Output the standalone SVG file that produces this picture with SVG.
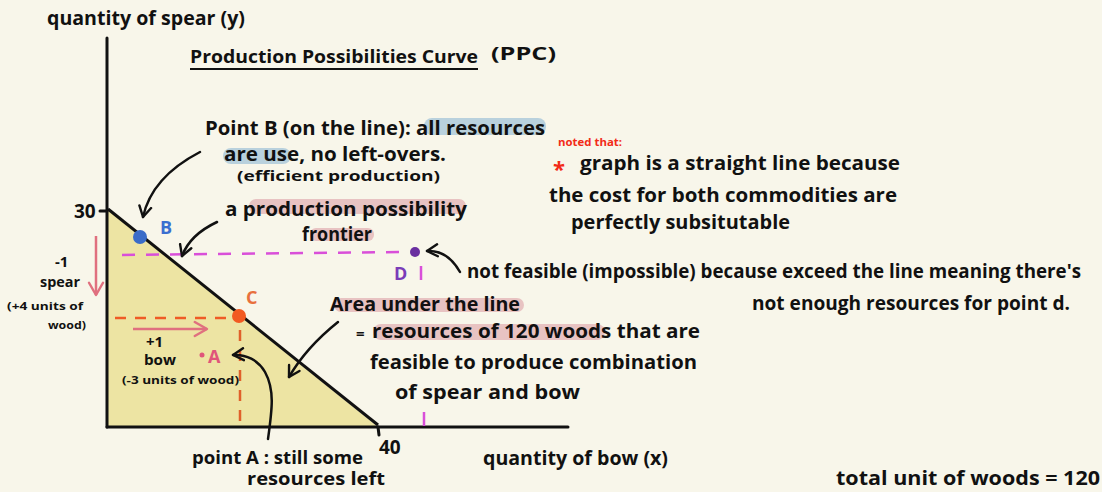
<svg xmlns="http://www.w3.org/2000/svg" width="1102" height="492" viewBox="0 0 1102 492">
<style>
.t{font-family:"Open Sans","Liberation Sans",sans-serif;font-weight:700;fill:#111;}
.s{font-size:19px}
.m{font-size:15px}
.x{font-size:11px}
.hb{fill:#b9d1dd}
.hp{fill:#e8c3c2}
.ax{stroke:#111;stroke-width:3;fill:none;stroke-linecap:round}
.ar{stroke:#111;stroke-width:2.5;fill:none;stroke-linecap:round;stroke-linejoin:round}
</style>
<defs>
<marker id="ah" viewBox="0 0 10 10" refX="8" refY="5" markerWidth="6" markerHeight="6" orient="auto-start-reverse"><path d="M1,1 L8,5 L1,9" fill="none" stroke="#111" stroke-width="1.6" stroke-linecap="round" stroke-linejoin="round"/></marker>
<marker id="ahp" viewBox="0 0 10 10" refX="8" refY="5" markerWidth="7" markerHeight="7" orient="auto"><path d="M1,1 L8,5 L1,9" fill="none" stroke="#e0707f" stroke-width="1.4" stroke-linecap="round" stroke-linejoin="round"/></marker>
</defs>
<rect width="1102" height="492" fill="#f8f6ea"/>

<g id="area">
<polygon points="107,209 107,427 378,427" fill="#ede4a3"/>
</g>

<g id="axes">
<line class="ax" x1="107" y1="38" x2="107" y2="427"/>
<line class="ax" x1="107" y1="427" x2="568" y2="427"/>
<line class="ax" x1="100" y1="211" x2="107" y2="211"/>
<line class="ax" x1="378" y1="427" x2="379" y2="435"/>
<line x1="424" y1="412" x2="424" y2="426" stroke="#d94fd9" stroke-width="2.5"/>
<line x1="108" y1="209" x2="378" y2="425" stroke="#111" stroke-width="3"/>
<text class="t s" x="74" y="218">30</text>
<text class="t s" x="379" y="454">40</text>
<text class="t s" x="47" y="25" textLength="198" lengthAdjust="spacingAndGlyphs">quantity of spear (y)</text>
<text class="t s" x="483" y="465" textLength="185" lengthAdjust="spacingAndGlyphs">quantity of bow (x)</text>
</g>

<g id="title">
<text class="t" font-size="17" x="190" y="63" textLength="288" lengthAdjust="spacingAndGlyphs">Production Possibilities Curve</text>
<line x1="190" y1="69" x2="478" y2="69" stroke="#111" stroke-width="2"/>
<text class="t" font-size="17" x="491" y="60" textLength="65" lengthAdjust="spacingAndGlyphs">(PPC)</text>
</g>

<g id="guides">
<line x1="122" y1="255" x2="410" y2="252" stroke="#d94fd9" stroke-width="2.5" stroke-dasharray="13,11"/>
<line x1="421" y1="266" x2="421" y2="280" stroke="#d94fd9" stroke-width="2.5"/>
<line x1="115" y1="318" x2="235" y2="318" stroke="#ef5b26" stroke-width="2.5" stroke-dasharray="11,9"/>
<line x1="240" y1="330" x2="240" y2="425" stroke="#e0602a" stroke-width="2.5" stroke-dasharray="11,9"/>
<line x1="96" y1="236" x2="96" y2="295" stroke="#e0707f" stroke-width="2.5" marker-end="url(#ahp)"/>
<line x1="133" y1="329" x2="207" y2="329" stroke="#e0707f" stroke-width="2.5" marker-end="url(#ahp)"/>
</g>

<g id="pointB">
<circle cx="140" cy="237" r="7" fill="#3a6cc8"/>
<text class="t" font-size="18" style="fill:#3b6fd0" x="160" y="234">B</text>
</g>
<g id="pointC">
<circle cx="239" cy="316" r="7" fill="#f25a22"/>
<text class="t" font-size="18" style="fill:#e8703d" x="246" y="304">C</text>
</g>
<g id="pointD">
<circle cx="415" cy="252" r="5" fill="#6a2fa0"/>
<text class="t" font-size="18" style="fill:#7b3cb8" x="394" y="280">D</text>
</g>
<g id="pointA">
<circle cx="202" cy="355" r="2.5" fill="#e0557a"/>
<text class="t" font-size="18" style="fill:#e0557a" x="208" y="363">A</text>
</g>

<g id="tradeoff">
<text class="t m" x="55" y="267">-1</text>
<text class="t m" x="40" y="287" textLength="40" lengthAdjust="spacingAndGlyphs">spear</text>
<text class="t x" x="7" y="310" textLength="76" lengthAdjust="spacingAndGlyphs">(+4 units of</text>
<text class="t x" x="48" y="329" textLength="38" lengthAdjust="spacingAndGlyphs">wood)</text>
<text class="t m" x="146" y="347">+1</text>
<text class="t m" x="144" y="365" textLength="32" lengthAdjust="spacingAndGlyphs">bow</text>
<text class="t x" x="122" y="384" textLength="117" lengthAdjust="spacingAndGlyphs">(-3 units of wood)</text>
</g>

<g id="noteB">
<rect class="hb" x="424" y="118" width="122" height="17" rx="8"/>
<rect class="hb" x="223" y="148" width="68" height="16" rx="8"/>
<text class="t s" x="205" y="135" textLength="340" lengthAdjust="spacingAndGlyphs">Point B (on the line): all resources</text>
<text class="t s" x="224" y="161" textLength="222" lengthAdjust="spacingAndGlyphs">are use, no left-overs.</text>
<text class="t m" x="237" y="181" textLength="203" lengthAdjust="spacingAndGlyphs">(efficient production)</text>
</g>

<g id="notePPF">
<rect class="hp" x="249" y="199" width="217" height="15" rx="7"/>
<rect class="hp" x="310" y="228" width="64" height="13" rx="6"/>
<text class="t s" x="225" y="216" textLength="242" lengthAdjust="spacingAndGlyphs">a production possibility</text>
<text class="t s" x="302" y="241" textLength="70" lengthAdjust="spacingAndGlyphs">frontier</text>
</g>

<g id="noteGraph">
<text class="t" font-size="11" style="fill:#f22b17" x="558" y="146" textLength="64" lengthAdjust="spacingAndGlyphs">noted that:</text>
<text class="t" font-size="22" style="fill:#f22b17" x="553" y="177">*</text>
<text class="t s" x="580" y="170" textLength="320" lengthAdjust="spacingAndGlyphs">graph is a straight line because</text>
<text class="t s" x="549" y="202" textLength="348" lengthAdjust="spacingAndGlyphs">the cost for both commodities are</text>
<text class="t s" x="571" y="229" textLength="219" lengthAdjust="spacingAndGlyphs">perfectly subsitutable</text>
</g>

<g id="noteD">
<text class="t s" x="467" y="278" textLength="614" lengthAdjust="spacingAndGlyphs">not feasible (impossible) because exceed the line meaning there's</text>
<text class="t s" x="752" y="310" textLength="318" lengthAdjust="spacingAndGlyphs">not enough resources for point d.</text>
</g>

<g id="noteArea">
<rect class="hp" x="334" y="298" width="190" height="14" rx="7"/>
<rect class="hp" x="373" y="324" width="232" height="16" rx="8"/>
<text class="t s" x="330" y="311" textLength="190" lengthAdjust="spacingAndGlyphs">Area under the line</text>
<text class="t m" x="356" y="339">=</text>
<text class="t s" x="372" y="338" textLength="328" lengthAdjust="spacingAndGlyphs">resources of 120 woods that are</text>
<text class="t s" x="370" y="369" textLength="327" lengthAdjust="spacingAndGlyphs">feasible to produce combination</text>
<text class="t s" x="395" y="399" textLength="185" lengthAdjust="spacingAndGlyphs">of spear and bow</text>
</g>

<g id="noteA">
<text class="t" font-size="17" x="192" y="464" textLength="171" lengthAdjust="spacingAndGlyphs">point A : still some</text>
<text class="t" font-size="17" x="247" y="485" textLength="138" lengthAdjust="spacingAndGlyphs">resources left</text>
</g>

<g id="total">
<text class="t s" x="836" y="485" textLength="264" lengthAdjust="spacingAndGlyphs">total unit of woods = 120</text>
</g>

<g id="connectors">
<path class="ar" d="M200,152 C175,165 150,185 143,217" marker-end="url(#ah)"/>
<path class="ar" d="M217,222 C200,230 188,240 182,256" marker-end="url(#ah)"/>
<path class="ar" d="M460,272 C452,258 442,250 427,251" marker-end="url(#ah)"/>
<path class="ar" d="M338,322 C318,338 300,358 289,377" marker-end="url(#ah)"/>
<path class="ar" d="M268,439 C272,410 275,390 265,372 C258,360 246,354 233,355" marker-end="url(#ah)"/>
</g>
</svg>
